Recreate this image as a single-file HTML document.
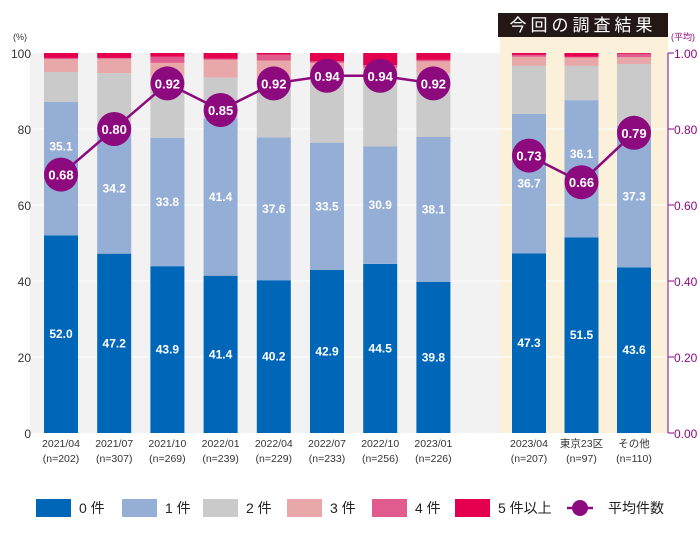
<!DOCTYPE html>
<html><head><meta charset="utf-8"><style>
body{margin:0;background:#fff;}
svg{display:block;font-family:"Liberation Sans","Noto Sans CJK JP",sans-serif;}
</style></head><body>
<svg id="c" width="700" height="550" viewBox="0 0 700 550"></svg>
<script>
const categories=["2021/04","2021/07","2021/10","2022/01","2022/04","2022/07","2022/10","2023/01","2023/04","東京23区","その他"];
const samples=["(n=202)","(n=307)","(n=269)","(n=239)","(n=229)","(n=233)","(n=256)","(n=226)","(n=207)","(n=97)","(n=110)"];
const s0=[52.0,47.2,43.9,41.4,40.2,42.9,44.5,39.8,47.3,51.5,43.6];
const s1=[35.1,34.2,33.8,41.4,37.6,33.5,30.9,38.1,36.7,36.1,37.3];
const s2=[7.9,13.3,16.2,10.7,14.2,18.5,18.7,16.8,12.6,9.0,16.2];
const s3=[3.4,3.8,3.5,4.7,6.0,2.5,2.0,3.1,2.4,2.2,1.8];
const s4=[0.3,0.2,1.6,0.3,1.6,0.4,0.7,0.4,0.5,0.2,0.9];
const s5=[1.3,1.3,1.0,1.5,0.4,2.2,3.2,1.8,0.5,1.0,0.2];
const avg=[0.68,0.80,0.92,0.85,0.92,0.94,0.94,0.92,0.73,0.66,0.79];
const leftTicks=[0,20,40,60,80,100];
const rightTicks=[0,0.2,0.4,0.6,0.8,1.0];
const legendLabels=["0 件","1 件","2 件","3 件","4 件","5 件以上","平均件数"];

const NS="http://www.w3.org/2000/svg";
const svg=document.getElementById('c');
function el(t,a,p){const e=document.createElementNS(NS,t);for(const k in a)e.setAttribute(k,a[k]);(p||svg).appendChild(e);return e;}
const Y0=433,Y1=53;
const y=v=>Y0-(Y0-Y1)*v/100;
const yr=v=>Y0-(Y0-Y1)*v;
const xc=i=>i<8?61+i*53.2:529+(i-8)*52.5;
const BW=34;
const colors=["#0066b8","#95aed5","#c9cac9","#e8a8aa","#e15c8e","#e4004f"];
const series=[s0,s1,s2,s3,s4,s5];

let e=el('rect',{x:30,y:53,width:470,height:380,fill:"#f2f2f2"});

e=el('rect',{x:500,y:37,width:168,height:396,fill:"#fbf0d9"});

e=el('rect',{x:498,y:13,width:170,height:24,fill:"#231815"});

e=el('text',{x:583,y:31,fill:"#fff","font-size":17,"text-anchor":"middle","letter-spacing":"4"});e.textContent="今回の調査結果";


leftTicks.forEach(t=>{
 if(t>0&&t<100){const g=el('line',{x1:30,x2:668,y1:y(t),y2:y(t),stroke:"#fff","stroke-width":1});
 }
 const tx=el('text',{x:31,y:y(t)+5,"font-size":12,fill:"#333","text-anchor":"end"});tx.textContent=t;
 
});
e=el('text',{x:20,y:40,"font-size":9,fill:"#333","text-anchor":"middle"});e.textContent="(%)";


e=el('line',{x1:668,x2:668,y1:53,y2:433,stroke:"#8c0a7e","stroke-width":1});

rightTicks.forEach(t=>{
 const l=el('line',{x1:668,x2:674,y1:yr(t),y2:yr(t),stroke:"#8c0a7e"});
 
 const tx=el('text',{x:674,y:yr(t)+5,"font-size":12,fill:"#8c0a7e"});tx.textContent=t.toFixed(2);
 
});
e=el('text',{x:683,y:40,"font-size":9,fill:"#8c0a7e","text-anchor":"middle"});e.textContent="(平均)";


categories.forEach((c,i)=>{
 let acc=0;
 series.forEach((s,k)=>{
  const r=el('rect',{x:xc(i)-BW/2,y:y(acc+s[i]),width:BW,height:y(acc)-y(acc+s[i]),fill:colors[k]});
  
  acc+=s[i];
 });
 const cy=yr(avg[i]);
 const m0=y(s0[i]/2);
 let t=el('text',{x:xc(i),y:m0+4,"font-size":12,"font-weight":"bold",fill:"#fff","text-anchor":"middle"});t.textContent=s0[i].toFixed(1);
 
 let m1=y(s0[i]+s1[i]/2);
 if(Math.abs(m1-cy)<20)m1=cy-28;
 t=el('text',{x:xc(i),y:m1+4,"font-size":12,"font-weight":"bold",fill:"#fff","text-anchor":"middle"});t.textContent=s1[i].toFixed(1);
 
 t=el('text',{x:xc(i),y:447,"font-size":10.5,fill:"#333","text-anchor":"middle"});t.textContent=c;
 
 t=el('text',{x:xc(i),y:462,"font-size":10.5,fill:"#333","text-anchor":"middle"});t.textContent=samples[i];
 
});

function line(a,b){const p=el('polyline',{points:a.map(i=>xc(i)+","+yr(avg[i])).join(" "),fill:"none",stroke:"#8c0a7e","stroke-width":2.5});
 }
line([0,1,2,3,4,5,6,7],'average-line-history');
line([8,9,10],'average-line-current');
avg.forEach((v,i)=>{
 const c=el('circle',{cx:xc(i),cy:yr(v),r:17,fill:"#8c0a7e"});
 
 const t=el('text',{x:xc(i),y:yr(v)+5,"font-size":13,"font-weight":"bold",fill:"#fff","text-anchor":"middle"});t.textContent=v.toFixed(2);
 
});

const lx=[36,122,203,287,372,455];
legendLabels.forEach((l,k)=>{
 if(k<6){
  const r=el('rect',{x:lx[k],y:499,width:35,height:18,fill:colors[k]});
  
  const t=el('text',{x:lx[k]+43,y:513,"font-size":14,fill:"#222"});t.textContent=l;
  
 } else {
  const ln=el('line',{x1:567,x2:593,y1:508,y2:508,stroke:"#8c0a7e","stroke-width":2.5});
  
  const c=el('circle',{cx:580,cy:508,r:8,fill:"#8c0a7e"});
  
  const t=el('text',{x:608,y:513,"font-size":14,fill:"#222"});t.textContent=l;
  
 }
});
</script>
</body></html>
